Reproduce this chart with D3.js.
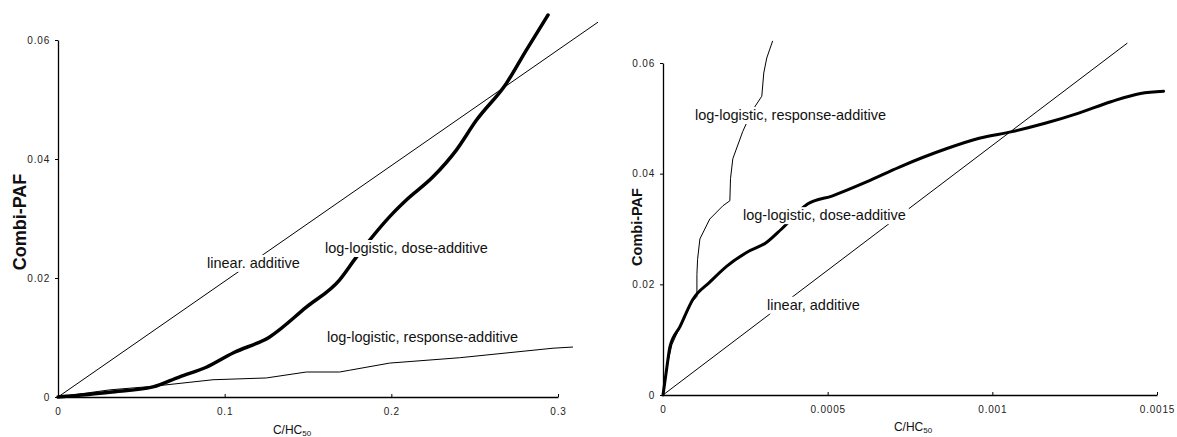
<!DOCTYPE html>
<html>
<head>
<meta charset="utf-8">
<script src="https://cdn.jsdelivr.net/npm/d3@7"></script>
<style>
  body { margin: 0; background: #fff; }
  svg { display: block; font-family: 'Liberation Sans', Arial, sans-serif; }
</style>
</head>
<body>
<div id="chart"></div>
<script>
// left panel: C/HC50 up to 0.3
const leftXTicks = [0, 0.1, 0.2, 0.3];
const leftYTicks = [0, 0.02, 0.04, 0.06];
const leftLinear = [[0, 0], [0.324, 0.063]];
const leftDose = [
  [0, 0], [0.031, 0.0008], [0.057, 0.0017], [0.073, 0.0034], [0.089, 0.005],
  [0.105, 0.0074], [0.127, 0.0101], [0.149, 0.0151], [0.169, 0.0197],
  [0.179, 0.0235], [0.201, 0.0309], [0.209, 0.0331], [0.225, 0.037],
  [0.239, 0.0415], [0.251, 0.0465], [0.269, 0.0527], [0.281, 0.0583], [0.294, 0.0642]
];
const leftResponse = [
  [0, 0], [0.031, 0.0012], [0.057, 0.0018], [0.093, 0.0029], [0.125, 0.0032],
  [0.149, 0.0042], [0.169, 0.0042], [0.175, 0.0045], [0.199, 0.0057],
  [0.241, 0.0066], [0.297, 0.0082], [0.309, 0.0084]
];
const leftLabels = [
  {text: 'linear. additive', x: 0.0894, y: 0.0217},
  {text: 'log-logistic, dose-additive', x: 0.1602, y: 0.0242},
  {text: 'log-logistic, response-additive', x: 0.1614, y: 0.0092}
];

// right panel: C/HC50 up to 0.0015
const rightXTicks = [0, 0.0005, 0.001, 0.0015];
const rightYTicks = [0, 0.02, 0.04, 0.06];
const rightLinear = [[0, 0], [0.00141, 0.0636]];
const rightDose = [
  [0, 0], [0.000012, 0.0051], [0.000021, 0.0087], [0.000052, 0.0124], [0.000091, 0.0173],
  [0.000142, 0.0204], [0.000194, 0.0233], [0.000255, 0.0258], [0.000315, 0.0276],
  [0.00036, 0.030], [0.000439, 0.0345], [0.000515, 0.036], [0.000618, 0.0385],
  [0.000718, 0.0412], [0.00086, 0.0445], [0.00096, 0.0464], [0.00106, 0.0476],
  [0.00116, 0.0491], [0.00126, 0.0509], [0.00136, 0.053], [0.00145, 0.0545], [0.00152, 0.0549]
];
const rightResponse = [
  [0, 0], [0.000012, 0.0051], [0.000027, 0.0091], [0.000052, 0.0124], [0.000082, 0.0164],
  [0.000103, 0.0178], [0.000103, 0.0218], [0.000105, 0.0245], [0.000112, 0.0282],
  [0.000142, 0.0318], [0.000182, 0.0342], [0.000203, 0.0351], [0.000205, 0.0391],
  [0.000212, 0.0427], [0.000242, 0.0476], [0.00027, 0.0513], [0.0003, 0.054],
  [0.000306, 0.0582], [0.000315, 0.0609], [0.000333, 0.064]
];
const rightLabels = [
  {text: 'log-logistic, response-additive', x: 0.0000972, y: 0.0497},
  {text: 'log-logistic, dose-additive', x: 0.000243, y: 0.0316},
  {text: 'linear, additive', x: 0.000316, y: 0.0154}
];

const width = 1177;
const height = 437;

const svg = d3.select('#chart')
  .append('svg')
  .attr('width', width)
  .attr('height', height);

function drawPanel(cfg) {
  const x = d3.scaleLinear()
    .domain(cfg.xDomain)
    .range(cfg.xRange);

  const y = d3.scaleLinear()
    .domain([0, 0.06])
    .range(cfg.yRange);

  const g = svg.append('g');

  const xAxis = d3.axisBottom(x)
    .tickValues(cfg.xTicks)
    .tickFormat(cfg.xFormat)
    .tickSizeInner(-3)
    .tickSizeOuter(0)
    .tickPadding(11);

  const yAxis = d3.axisLeft(y)
    .tickValues(cfg.yTicks)
    .tickFormat(d => d === 0 ? '0' : d3.format('.2f')(d))
    .tickSizeInner(3)
    .tickSizeOuter(0)
    .tickPadding(5);

  g.append('g')
    .attr('transform', `translate(0,${cfg.yRange[0]})`)
    .call(xAxis)
    .call(a => a.select('.domain').attr('stroke-width', 1.3))
    .call(a => a.selectAll('text').attr('font-size', 10).attr('letter-spacing', 0.8).attr('fill', '#222'));

  g.append('g')
    .attr('transform', `translate(${cfg.xRange[0]},0)`)
    .call(yAxis)
    .call(a => a.select('.domain').attr('stroke-width', 1.3))
    .call(a => a.selectAll('text').attr('font-size', 10).attr('letter-spacing', 0.8).attr('fill', '#222'));

  const line = d3.line()
    .x(d => x(d[0]))
    .y(d => y(d[1]))
    .curve(d3.curveMonotoneX);

  const straight = d3.line()
    .x(d => x(d[0]))
    .y(d => y(d[1]));

  g.append('path')
    .datum(cfg.linear)
    .attr('fill', 'none')
    .attr('stroke', '#000')
    .attr('stroke-width', 1)
    .attr('d', straight);

  g.append('path')
    .datum(cfg.response)
    .attr('fill', 'none')
    .attr('stroke', '#000')
    .attr('stroke-width', 1)
    .attr('stroke-linejoin', 'round')
    .attr('d', straight);

  g.append('path')
    .datum(cfg.dose)
    .attr('fill', 'none')
    .attr('stroke', '#000')
    .attr('stroke-width', cfg.thick)
    .attr('stroke-linejoin', 'round')
    .attr('stroke-linecap', 'round')
    .attr('d', line);

  // curve labels sit on a white patch, which breaks the lines as in the print
  const labels = g.selectAll('.lbl')
    .data(cfg.labels)
    .join('g')
    .attr('class', 'lbl');

  labels.append('text')
    .attr('x', d => x(d.x))
    .attr('y', d => y(d.y))
    .attr('font-size', 14.5)
    .attr('fill', '#111')
    .text(d => d.text);

  labels.each(function() {
    const t = d3.select(this).select('text');
    const b = t.node().getBBox();
    d3.select(this).insert('rect', 'text')
      .attr('x', b.x - 3)
      .attr('y', b.y)
      .attr('width', b.width + 6)
      .attr('height', b.height + 1)
      .attr('fill', '#fff');
  });

  // axis titles
  const xt = g.append('text')
    .attr('x', cfg.xTitleX)
    .attr('y', cfg.xTitleY)
    .attr('text-anchor', 'middle')
    .attr('font-size', 12)
    .attr('fill', '#111');
  xt.append('tspan').text('C/HC');
  xt.append('tspan').attr('font-size', 8).attr('dy', 2).text('50');

  g.append('text')
    .attr('transform', `translate(${cfg.yTitleX},${cfg.yTitleY}) rotate(-90)`)
    .attr('text-anchor', 'middle')
    .attr('font-size', cfg.yTitleSize)
    .attr('font-weight', 'bold')
    .attr('fill', '#111')
    .text('Combi-PAF');
}

drawPanel({
  xDomain: [0, 0.3], xRange: [58, 558], yRange: [397, 40],
  xTicks: leftXTicks, yTicks: leftYTicks, xFormat: d => d === 0 ? '0' : d3.format('.1f')(d),
  linear: leftLinear, dose: leftDose, response: leftResponse, labels: leftLabels,
  thick: 3.5,
  xTitleX: 292, xTitleY: 434, yTitleX: 26, yTitleY: 222, yTitleSize: 18
});

drawPanel({
  xDomain: [0, 0.0015], xRange: [663, 1157], yRange: [395, 63],
  xTicks: rightXTicks, yTicks: rightYTicks, xFormat: d => d === 0 ? '0' : String(d),
  linear: rightLinear, dose: rightDose, response: rightResponse, labels: rightLabels,
  thick: 3,
  xTitleX: 913, xTitleY: 431, yTitleX: 642, yTitleY: 227, yTitleSize: 14.5
});
</script>
</body>
</html>
